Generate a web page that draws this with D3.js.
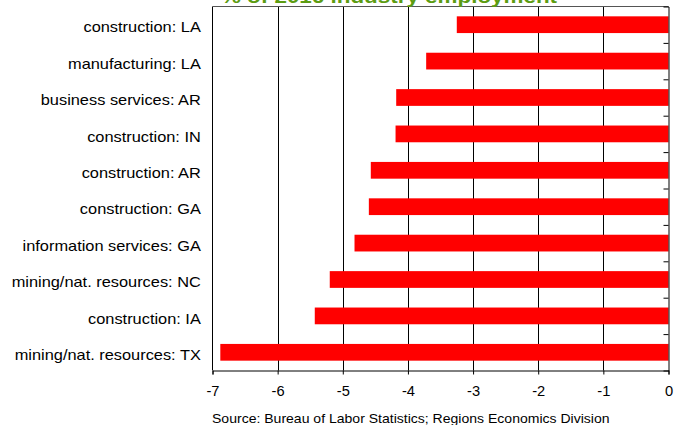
<!DOCTYPE html>
<html>
<head>
<meta charset="utf-8">
<script src="https://cdn.jsdelivr.net/npm/d3@7"></script>
<style>
  html, body { margin: 0; padding: 0; background: #fff; }
  svg { display: block; font-family: "Liberation Sans", Arial, sans-serif; }
</style>
</head>
<body>
<svg id="chart" width="686" height="425"></svg>
<script>
// Job losses by industry and state, % of 2016 industry employment
const categories = [
  "construction: LA",
  "manufacturing: LA",
  "business services: AR",
  "construction: IN",
  "construction: AR",
  "construction: GA",
  "information services: GA",
  "mining/nat. resources: NC",
  "construction: IA",
  "mining/nat. resources: TX"
];
const values = [-3.25, -3.72, -4.18, -4.19, -4.57, -4.60, -4.82, -5.20, -5.43, -6.88];
const xTicks = [-7, -6, -5, -4, -3, -2, -1, 0];
const titleText = "% of 2016 industry employment";
const sourceText = "Source: Bureau of Labor Statistics; Regions Economics Division";

const svg = d3.select("#chart");
const m = { left: 212.5, right: 668.5, top: 6.5, bottom: 370.5 };

const x = d3.scaleLinear().domain([-7, 0]).range([m.left, m.right]);
const y = d3.scaleBand().domain(categories).range([m.top, m.bottom])
  .paddingInner(0.54).paddingOuter(0.27);

// vertical gridlines
svg.append("g").selectAll("line").data(xTicks.filter(d => d > -7 && d < 0)).join("line")
  .attr("x1", d => Math.round(x(d)) + 0.5).attr("x2", d => Math.round(x(d)) + 0.5)
  .attr("y1", m.top).attr("y2", m.bottom)
  .attr("stroke", "#000").attr("stroke-width", 1);

// bars
svg.append("g").selectAll("rect").data(values).join("rect")
  .attr("x", d => x(d))
  .attr("y", (d, i) => y(categories[i]))
  .attr("width", d => x(0) - x(d))
  .attr("height", y.bandwidth())
  .attr("fill", "#ff0000");

// plot frame: left and top edges
svg.append("line").attr("x1", m.left).attr("x2", m.left).attr("y1", m.top).attr("y2", m.bottom)
  .attr("stroke", "#000");
svg.append("line").attr("x1", m.left).attr("x2", m.right).attr("y1", m.top).attr("y2", m.top)
  .attr("stroke", "#555");

// category axis at zero with inward ticks between bars
const yBoundaries = categories.slice(1).map(c => y(c) - y.step() * y.paddingInner() / 2);
const yLinear = d3.scaleLinear().domain([m.top, m.bottom]).range([m.top, m.bottom]);
svg.append("g")
  .attr("transform", `translate(${m.right},0)`)
  .call(d3.axisRight(yLinear).tickValues(yBoundaries).tickSize(-5).tickFormat(""))
  .call(g => g.select(".domain").attr("stroke", "#000"))
  .call(g => g.selectAll(".tick line").attr("stroke", "#000"));

// category labels
svg.append("g")
  .attr("transform", `translate(${m.left},0)`)
  .call(d3.axisLeft(y).tickSize(0).tickPadding(10))
  .call(g => g.select(".domain").remove())
  .call(g => g.selectAll(".tick text")
    .attr("font-size", 14).attr("font-family", "Liberation Sans, Arial, sans-serif")
    .attr("dy", "0.55em")
    .attr("fill", "#000").attr("transform", "scale(1.17,1)"));

// value axis
svg.append("g")
  .attr("transform", `translate(0,${m.bottom})`)
  .call(d3.axisBottom(x).tickValues(xTicks).tickSize(4).tickPadding(17).tickFormat(d => String(d)))
  .call(g => g.select(".domain").attr("stroke", "#000"))
  .call(g => g.selectAll(".tick line").attr("stroke", "#000"))
  .call(g => g.selectAll(".tick text")
    .attr("font-size", 14).attr("font-family", "Liberation Sans, Arial, sans-serif")
    .attr("dy", "0.35em")
    .attr("fill", "#000").attr("transform", "scale(1.05,1)"));

// title, partly above the top edge
svg.append("text")
  .attr("transform", "translate(389,3) scale(1.18,1)")
  .attr("text-anchor", "middle")
  .attr("font-size", 19).attr("font-weight", "bold")
  .attr("fill", "#5c9c12")
  .text(titleText);

// source note
svg.append("text")
  .attr("transform", "translate(212,423) scale(1.08,1)")
  .attr("font-size", 13)
  .attr("fill", "#000")
  .text(sourceText);
</script>
</body>
</html>
